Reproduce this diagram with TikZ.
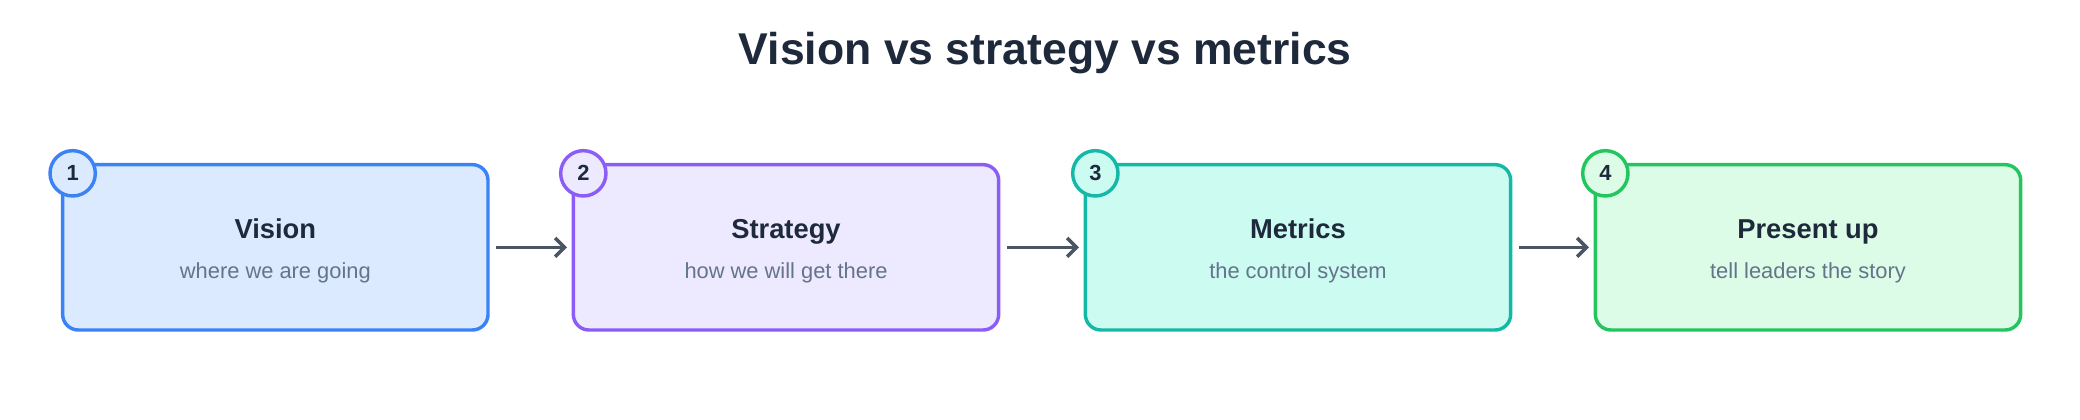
\documentclass[tikz,border=0pt]{standalone}
\usepackage{fontspec}
\setmainfont{Liberation Sans}
\usetikzlibrary{positioning,arrows.meta}
\definecolor{ink}{HTML}{1E293B}
\definecolor{subgray}{HTML}{64748B}
\definecolor{arrowgray}{HTML}{4B5563}
\definecolor{blueline}{HTML}{3B82F6}\definecolor{bluefill}{HTML}{DBEAFE}
\definecolor{purpleline}{HTML}{8B5CF6}\definecolor{purplefill}{HTML}{EDE9FE}
\definecolor{tealline}{HTML}{14B8A6}\definecolor{tealfill}{HTML}{CCFBF1}
\definecolor{greenline}{HTML}{22C55E}\definecolor{greenfill}{HTML}{DCFCE7}
\tikzset{
  step/.style = {draw=#1line, fill=#1fill, line width=2.2pt, rounded corners=10pt,
    minimum width=9.57cm, minimum height=3.72cm},
  badge/.style = {circle, draw=#1line, fill=#1fill, line width=2.2pt,
    minimum size=1.02cm, inner sep=0pt, font=\bfseries\fontsize{14}{16}\selectfont, text=ink},
  steptitle/.style = {font=\bfseries\fontsize{17.5}{20}\selectfont, text=ink, anchor=base},
  stepsub/.style = {font=\fontsize{14}{16}\selectfont, text=subgray, anchor=base},
  flow/.style = {-{Straight Barb[length=6pt,width=12pt]}, line width=2.2pt, draw=arrowgray,
    shorten <=4pt, shorten >=3pt}
}
\begin{document}
\begin{tikzpicture}[x=0.03cm,y=-0.03cm]
  \useasboundingbox (0,0) rectangle (1560,315);
  \node[font=\bfseries\fontsize{28.5}{32}\selectfont, text=ink] (title) at (784,40) {Vision vs strategy vs metrics};
  % steps
  \foreach \i/\x/\c/\name/\sub in {1/206.5/blue/Vision/where we are going,
      2/589.5/purple/Strategy/how we will get there,
      3/973.5/teal/Metrics/the control system,
      4/1356/green/Present up/tell leaders the story} {
    \node[step=\c] (box\i) at (\x,185.5) {};
    \node[steptitle] (head\i) at (\x,179) {\name};
    \node[stepsub] (sub\i) at (\x,209) {\sub};
    \node[badge=\c] (num\i) at (\x-152,130) {\i};
  }
  \draw[flow] (box1) -- (box2);
  \draw[flow] (box2) -- (box3);
  \draw[flow] (box3) -- (box4);
\end{tikzpicture}
\end{document}
